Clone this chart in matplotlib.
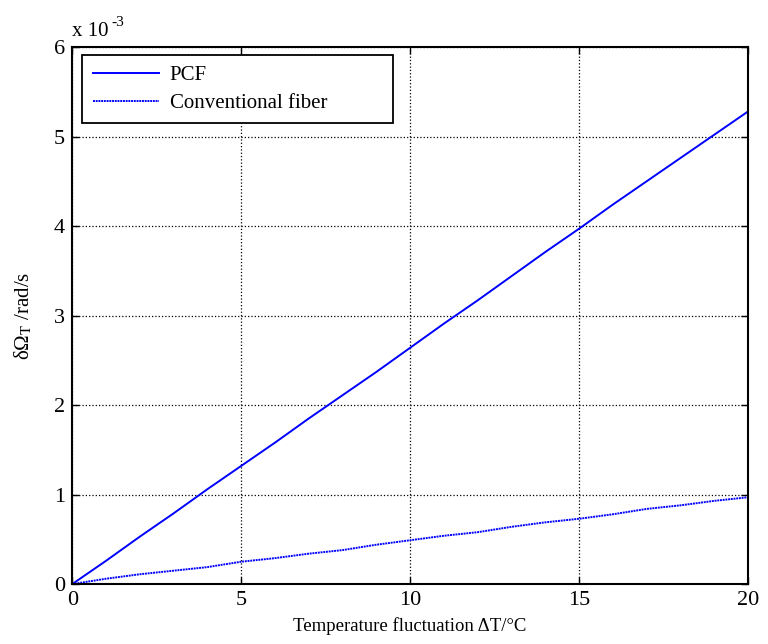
import numpy as np
import matplotlib.pyplot as plt

# data (y values in units of 1e-3 rad/s)
delta_t = [0, 1, 2, 3, 4, 5, 6, 7, 8, 9, 10, 11, 12, 13, 14, 15, 16, 17, 18, 19, 20]
pcf = [0, 0.26, 0.53, 0.79, 1.06, 1.32, 1.58, 1.85, 2.11, 2.37, 2.64,
       2.91, 3.17, 3.44, 3.71, 3.97, 4.24, 4.50, 4.76, 5.02, 5.28]
conventional = [0, 0.06, 0.11, 0.15, 0.19, 0.25, 0.29, 0.34, 0.38, 0.44, 0.49,
                0.54, 0.58, 0.64, 0.69, 0.73, 0.78, 0.84, 0.88, 0.93, 0.97]
x_ticks = [0, 5, 10, 15, 20]
y_ticks = [0, 1, 2, 3, 4, 5, 6]

plt.rcParams['font.family'] = ['Liberation Serif', 'DejaVu Serif']
plt.rcParams['mathtext.fontset'] = 'stix'

fig = plt.figure(figsize=(7.68, 6.44), dpi=100)
ax = fig.add_axes([0.094, 0.093, 0.880, 0.834])

ax.plot(delta_t, pcf, color='#0000ff', lw=1.4, label='PCF')
ax.plot(delta_t, conventional, color='#0000ff', lw=1.4,
        linestyle=(0, (1, 0.4)), label='Conventional fiber')

ax.set_xlim(0, 20)
ax.set_ylim(0, 6)
ax.set_xticks(x_ticks)
ax.set_yticks(y_ticks)
ax.tick_params(direction='in', top=True, right=True, length=5, width=1,
               labelsize=16, pad=5)
for s in ax.spines.values():
    s.set_linewidth(1.5)
ax.grid(True, color='black', linestyle=':', linewidth=0.9)

ax.set_xlabel('Temperature fluctuation ΔT/°C', fontsize=13.5, labelpad=5)
ax.set_ylabel(r'δΩ$_\mathrm{T}$ /rad/s', fontsize=15, labelpad=14)

# MATLAB-style exponent label
ax.text(0.0, 1.012, 'x 10', transform=ax.transAxes, fontsize=15,
        ha='left', va='bottom')
ax.annotate('-3', xy=(0.0, 1.012), xycoords='axes fraction',
            xytext=(28, 8), textcoords='offset points', fontsize=11,
            ha='left', va='bottom')

leg = ax.legend(loc='upper left', fontsize=15, frameon=True, fancybox=False,
                edgecolor='black', framealpha=1, borderpad=0.5,
                handlelength=3.2, handletextpad=0.5, labelspacing=0.4,
                mode='expand', borderaxespad=0,
                bbox_to_anchor=(0.0148, 0.860, 0.460, 0.125))
leg.get_frame().set_linewidth(1.3)

fig.savefig('out.png', dpi=100)
